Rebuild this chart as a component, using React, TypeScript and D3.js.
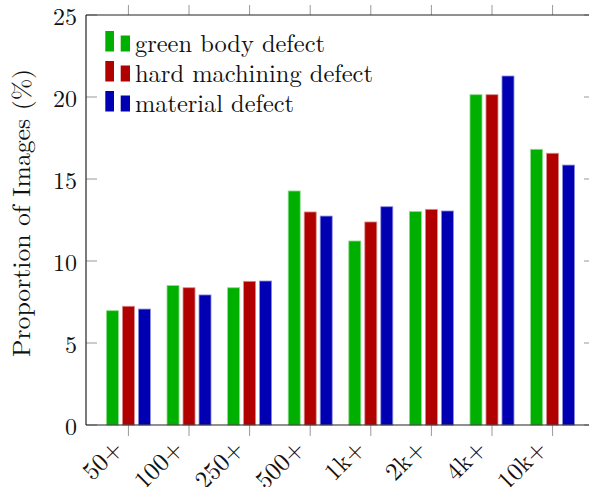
import React from "react";
import * as d3 from "d3";

// Minimum-size buckets along the x axis
const categories = ["50+", "100+", "250+", "500+", "1k+", "2k+", "4k+", "10k+"];

// Proportion of images (%) per defect class
const greenBody = [6.97, 8.5, 8.37, 14.27, 11.22, 13.01, 20.14, 16.81];
const hardMachining = [7.24, 8.37, 8.76, 12.99, 12.38, 13.15, 20.14, 16.57];
const material = [7.07, 7.93, 8.78, 12.74, 13.31, 13.05, 21.28, 15.85];

const seriesNames = ["green body defect", "hard machining defect", "material defect"];
const seriesColors = ["#00b000", "#b00000", "#0000b2"];
const yTicks = [0, 5, 10, 15, 20, 25];

const W = 589;
const H = 487;
const left = 86;
const right = 595;
const top = 15;
const bottom = 425;
const FONT = "'Latin Modern Roman', 'Liberation Serif', serif";
const TICK_FS = 24;
const TEXT_FS = 24.5;

// set widths of legend entries and the axis title
const legendWidths = [190, 238, 159];
const titleWidth = 288;

export default function App() {
  const x = d3.scalePoint<string>().domain(categories).range([left, right]).padding(0.7);
  const y = d3.scaleLinear().domain([0, 25]).range([bottom, top]);
  const series = [greenBody, hardMachining, material];
  const barW = 12;
  const offsets = [-16, 0, 16];
  const tickColor = "#999";
  const axisColor = "#222";
  const txt = { fontFamily: FONT };

  return (
    <svg
      width={W}
      height={H}
      style={{ position: "absolute", left: 0, top: 0, background: "#fff", fontFamily: FONT }}
    >
      {/* bars */}
      {series.map((vals, si) => (
        <g key={si}>
          {vals.map((v, i) => {
            const cx = (x(categories[i]) as number) + offsets[si];
            return (
              <rect
                key={i}
                x={cx - barW / 2}
                y={y(v)}
                width={barW}
                height={y(0) - y(v)}
                fill={seriesColors[si]}
                stroke={d3.interpolateRgb(seriesColors[si], "#ffffff")(0.55)}
                strokeWidth={0.8}
              />
            );
          })}
        </g>
      ))}

      {/* y ticks (inside, both sides) */}
      {yTicks.map((t) => (
        <g key={t}>
          <line x1={left} x2={left + 11} y1={y(t)} y2={y(t)} stroke={tickColor} strokeWidth={1} />
          <line x1={right - 11} x2={right} y1={y(t)} y2={y(t)} stroke={tickColor} strokeWidth={1} />
          <text x={77} y={y(t)} dy="0.4em" textAnchor="end" fontSize={TICK_FS} fill="#111" style={txt}>
            {t}
          </text>
        </g>
      ))}

      {/* x ticks (outside, top and bottom) */}
      {categories.map((c) => {
        const cx = x(c) as number;
        return (
          <g key={c}>
            <line x1={cx} x2={cx} y1={bottom} y2={bottom + 11} stroke={tickColor} strokeWidth={1} />
            <line x1={cx} x2={cx} y1={top - 10} y2={top} stroke={tickColor} strokeWidth={1} />
            <text
              transform={`translate(${cx - 4.5},${450}) rotate(-45)`}
              textAnchor="end"
              fontSize={25}
              fill="#111"
              style={txt}
            >
              {c}
            </text>
          </g>
        );
      })}

      {/* axis frame */}
      <line x1={left} x2={right} y1={top} y2={top} stroke={axisColor} strokeWidth={1.2} />
      <line x1={left} x2={right} y1={bottom} y2={bottom} stroke={axisColor} strokeWidth={1.2} />
      <line x1={left} x2={left} y1={top} y2={bottom} stroke={axisColor} strokeWidth={1.2} />
      <line x1={right} x2={right} y1={top} y2={bottom} stroke={axisColor} strokeWidth={1.2} />

      {/* y axis title */}
      <text
        transform={`translate(30,${213}) rotate(-90)`}
        x={-titleWidth / 2}
        textLength={titleWidth}
        lengthAdjust="spacingAndGlyphs"
        fontSize={TEXT_FS}
        fill="#111"
        style={txt}
      >
        Proportion of Images (%)
      </text>

      {/* legend */}
      {seriesNames.map((name, i) => {
        const base = 51.5 + 30 * i;
        return (
          <g key={name}>
            <rect x={105.3} y={base - 20.5} width={8.7} height={20.5} fill={seriesColors[i]} />
            <rect x={120.7} y={base - 16} width={9.3} height={16} fill={seriesColors[i]} />
            <text
              x={135}
              y={base}
              textLength={legendWidths[i]}
              lengthAdjust="spacingAndGlyphs"
              fontSize={TEXT_FS}
              fill="#111"
              style={txt}
            >
              {name}
            </text>
          </g>
        );
      })}
    </svg>
  );
}
